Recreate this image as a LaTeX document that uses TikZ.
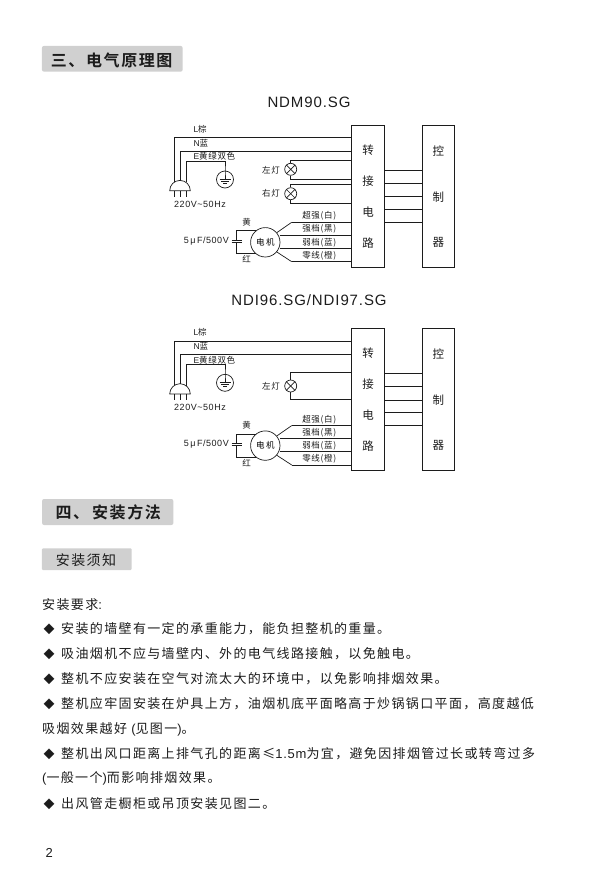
\documentclass[tikz,border=0pt]{standalone}
\usepackage{fontspec}
\setmainfont[LetterSpace=8]{Noto Sans CJK SC}
\newfontfamily\lat[LetterSpace=6]{Liberation Sans}
\newfontfamily\cjkbody[LetterSpace=10.5]{Noto Sans CJK SC}
\newfontfamily\cjkhead[LetterSpace=10]{Noto Sans CJK SC Bold}
\definecolor{bannergray}{HTML}{D0D0D0}
\definecolor{inkgray}{HTML}{1C1C1C}
\newcommand{\dia}{\makebox[18pt][l]{\hspace{0.5pt}\fontsize{11}{11}\selectfont ◆}}
\tikzset{
 banner/.style={fill=bannergray, rounded corners=2pt, inner sep=0pt, text=inkgray},
 heading/.style={anchor=west, inner sep=0pt, text=inkgray, font=\fontsize{16}{16}\cjkhead},
 body/.style={anchor=west, inner sep=0pt, text=inkgray, font=\fontsize{13}{13}\cjkbody},
 tiny label/.style={inner sep=0pt, text=inkgray, font=\fontsize{8.5}{8.5}\selectfont},
 wire/.style={line width=0.7pt, draw=inkgray},
 box/.style={draw=inkgray, line width=0.8pt, minimum width=32.7pt, minimum height=142pt, inner sep=0pt},
 boxchar/.style={inner sep=0pt, text=inkgray, font=\fontsize{11.5}{11.5}\selectfont},
 dev/.style={circle, draw=inkgray, line width=0.7pt, inner sep=0pt}
}
\newcommand{\wiring}{
 \node (conv) [box] at (368,196) {};
 \node (ctrl) [box] at (438.3,196) {};
 \node (convA) [boxchar] at (368,150) {转};
 \node (convB) [boxchar] at (368,180.7) {接};
 \node (convC) [boxchar] at (368,212) {电};
 \node (convD) [boxchar] at (368,243) {路};
 \node (ctrlA) [boxchar] at (438.3,151) {控};
 \node (ctrlB) [boxchar] at (438.3,196.7) {制};
 \node (ctrlC) [boxchar] at (438.3,242.3) {器};
 \node (lblL) [tiny label, anchor=west] at (193.3,129.3) {{\lat L}棕};
 \node (lblN) [tiny label, anchor=west] at (193.3,143.3) {{\lat N}蓝};
 \node (lblE) [tiny label, anchor=west] at (193.3,156.7) {{\lat E}黄绿双色};
 \node (lblV) [tiny label, anchor=west, font=\fontsize{9}{9}\lat] at (174,204) {220V\textasciitilde 50Hz};
 \node (gnd) [dev, minimum size=17pt] at (225,179.5) {};
 \node (motor) [dev, minimum size=29.4pt, font=\fontsize{8.5}{8.5}\selectfont] at (265.3,242.3) {电\,机};
 \node (lblC) [tiny label, anchor=east, font=\fontsize{9}{9}\lat] at (229,240.7) {5\,μ\,F/500V};
 \node (lblY) [tiny label] at (246.7,222.3) {黄};
 \node (lblR) [tiny label] at (246.7,259.3) {红};
 \node (lblA) [tiny label] at (319.3,216) {超强(白)};
 \node (lblB) [tiny label] at (319.3,229) {强档(黑)};
 \node (lblD) [tiny label] at (319.3,242.3) {弱档(蓝)};
 \node (lblF) [tiny label] at (319.3,255.7) {零线(橙)};
 \coordinate (plugL) at (174.7,190.7);
 \coordinate (plugN) at (180.7,190.7);
 \coordinate (plugE) at (186,190.7);
 \coordinate (capT) at (236.7,240);
 \coordinate (capB) at (236.7,242.3);
 \coordinate (bendA) at (291.7,222.3);
 \coordinate (bendF) at (291.7,261.7);
 \draw[wire] (169.7,190.7) arc (180:360:10.3) -- cycle;
 \foreach \p in {plugL,plugN,plugE}
  \draw[wire] (\p) -- ++(0,6.3);
 \draw[wire] ([yshift=8.8pt]plugL) |- (conv.west |- 0,137.7);
 \draw[wire] ([yshift=10.2pt]plugN) |- (conv.west |- 0,151);
 \draw[wire] ([yshift=8.4pt]plugE) |- (gnd.north |- 0,161) -- (gnd.north) -- (gnd.center);
 \draw[wire] ([xshift=-5.5pt]gnd.center) -- ([xshift=5.5pt]gnd.center);
 \draw[wire] ([xshift=-3.7pt,yshift=-2pt]gnd.center) -- ([xshift=3.7pt,yshift=-2pt]gnd.center);
 \draw[wire] ([xshift=-1.8pt,yshift=-4pt]gnd.center) -- ([xshift=1.8pt,yshift=-4pt]gnd.center);
 \draw[wire] (bendA) -- (motor.40);
 \draw[wire] (bendA) -- (conv.west |- bendA);
 \draw[wire] (bendF) -- (motor.-40);
 \draw[wire] (bendF) -- (conv.west |- bendF);
 \draw[wire] (motor.east |- 0,235.3) -- (conv.west |- 0,235.3);
 \draw[wire] (motor.east |- 0,248.3) -- (conv.west |- 0,248.3);
 \draw[wire] (motor.130) -- (capT |- motor.130) -- (capT);
 \draw[wire] (motor.-130) -- (capB |- motor.-130) -- (capB);
 \draw[wire] ([xshift=-5pt]capT) -- ([xshift=5pt]capT);
 \draw[wire] ([xshift=-5pt]capB) -- ([xshift=5pt]capB);
 \foreach \y [count=\i] in {170,183.3,196.7,209.3,222.3} {
  \coordinate (link\i) at (384.3,\y);
  \draw[wire] (link\i) -- (ctrl.west |- link\i);
 }
}
\newcommand{\lamp}[6]{
 \node (#1) [dev, minimum size=12pt] at (290.7,#2) {};
 \node (#1lbl) [tiny label, anchor=east] at (280,#3) {#4};
 \draw[wire] (#1.45) -- (#1.225);
 \draw[wire] (#1.135) -- (#1.315);
 \draw[wire] (#1.north) |- (conv.west |- 0,#5);
 \draw[wire] (#1.south) |- (conv.west |- 0,#6);
}
\begin{document}
\begin{tikzpicture}[x=1pt,y=-1pt]
 \useasboundingbox (0,0) rectangle (589,886);
 \node (sectA) [banner, minimum width=140.7pt, minimum height=25.7pt] at (112.3,58.8) {};
 \node (sectAtxt) [heading] at (50.7,60) {三、电气原理图};
 \node (titleA) [inner sep=0pt, text=inkgray, font=\fontsize{15}{15}\lat] at (309,102.7) {NDM90.SG};
 \node (titleB) [inner sep=0pt, text=inkgray, font=\fontsize{15}{15}\lat] at (309,300) {NDI96.SG/NDI97.SG};

 \begin{scope}[name prefix=a-]
  \wiring
  \lamp{lampL}{169.3}{170}{左灯}{160}{179}
  \lamp{lampR}{193.7}{193.7}{右灯}{184.3}{203.7}
 \end{scope}
 \begin{scope}[name prefix=b-, yshift=-203.3pt]
  \wiring
  \lamp{lampL}{182.7}{183}{左灯}{169.4}{196}
 \end{scope}

 \node (sectB) [banner, minimum width=131.3pt, minimum height=26pt] at (107.7,512) {};
 \node (sectBtxt) [heading] at (55.3,512.7) {四、\hspace{3pt}安装方法};
 \node (sectC) [banner, minimum width=89.7pt, minimum height=21.7pt, rounded corners=1pt] at (86.8,559.2) {};
 \node (sectCtxt) [inner sep=0pt, text=inkgray, font=\fontsize{14}{14}\cjkbody] at (86,560) {安装须知};

 \node (req) [body] at (42,604.3) {安装要求{\lat :}};
 \node (itemA) [body] at (43,629) {\dia 安装的墙壁有一定的承重能力，能负担整机的重量。};
 \node (itemB) [body] at (43,653.7) {\dia 吸油烟机不应与墙壁内、外的电气线路接触，以免触电。};
 \node (itemC) [body] at (43,678.5) {\dia 整机不应安装在空气对流太大的环境中，以免影响排烟效果。};
 \node (itemD) [body] at (43,704) {\dia 整机应牢固安装在炉具上方，油烟机底平面略高于炒锅锅口平面，高度越低};
 \node (itemDb) [body] at (42,729.3) {吸烟效果越好 {\lat (}见图一{\lat )}。};
 \node (itemE) [body] at (43,754) {\dia 整机出风口距离上排气孔的距离≤{\lat 1.5m}为宜，避免因排烟管过长或转弯过多};
 \node (itemEb) [body] at (42,778.7) {{\lat (}一般一个{\lat )}而影响排烟效果。};
 \node (itemF) [body] at (43,803.3) {\dia 出风管走橱柜或吊顶安装见图二。};
 \node (page) [inner sep=0pt, text=inkgray, font=\fontsize{13}{13}\lat] at (49.3,853) {2};
\end{tikzpicture}
\end{document}
